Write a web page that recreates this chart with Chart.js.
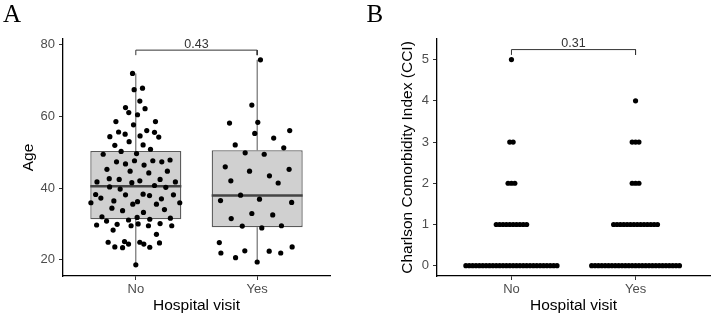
<!DOCTYPE html>
<html><head><meta charset="utf-8">
<script src="https://cdn.jsdelivr.net/npm/chart.js@4/dist/chart.umd.min.js"></script>
<style>
html,body{margin:0;padding:0;background:#fff;}
#wrap{display:flex;width:714px;height:318px;}
canvas{display:block;}
</style></head><body>
<div id="wrap"><canvas id="chartA" width="357" height="318"></canvas><canvas id="chartB" width="357" height="318"></canvas></div>
<script>
// ---------- data ----------
const categories = ['No', 'Yes'];
const ageTicks = [20, 40, 60, 80];
const cciTicks = [0, 1, 2, 3, 4, 5];

const noJitter = [-0.027,-0.014,0.055,0.033,-0.085,-0.058,0.076,0.014,-0.164,-0.019,0.162,-0.142,-0.088,-0.214,0.035,0.090,0.154,0.189,-0.173,-0.055,0.060,0.121,-0.121,-0.269,0.006,
-0.159,-0.085,-0.011,0.068,0.140,0.214,0.282,-0.238,-0.047,0.107,0.260,-0.219,-0.137,-0.033,0.033,0.200,0.326,-0.320,-0.216,-0.129,0.154,0.247,-0.331,-0.288,-0.181,-0.085,0.060,0.113,0.211,0.310,-0.370,-0.025,0.014,0.170,0.362,-0.197,-0.109,0.063,0.236,-0.279,-0.241,-0.060,0.011,0.115,0.285,-0.323,-0.154,-0.039,0.019,0.104,0.200,0.296,
-0.187,0.170,-0.228,-0.093,-0.060,-0.173,-0.109,0.033,0.066,0.115,0.195,0];
const noAge = [71.9,67.4,67.8,64.2,62.4,61.0,62.1,60.4,58.5,57.6,58.5,55.6,55.0,54.3,54.5,56.0,55.5,54.2,51.9,52.9,52.0,50.8,50.2,49.4,49.6,
47.3,46.7,47.6,46.4,47.6,47.3,47.8,45.2,44.7,44.2,44.7,42.6,42.4,41.5,42.0,42.4,41.7,41.7,40.3,39.7,40.7,40.2,38.2,37.2,36.4,38.1,38.3,37.9,37.0,38.1,35.9,35.5,36.2,35.5,35.9,34.4,33.7,33.2,34.0,32.0,30.8,31.1,31.8,31.3,31.6,29.7,29.9,29.5,30.0,29.5,30.1,29.5,
28.3,27.1,24.9,25.1,24.4,23.6,23.4,24.9,24.4,23.5,24.7,18.6];

const yesJitter = [0.027,-0.044,-0.228,0.005,-0.020,0.136,0.268,-0.181,0.219,-0.099,0.058,-0.263,-0.063,0.101,0.263,-0.217,0.173,-0.137,-0.302,0.019,0.284,-0.214,-0.044,0.128,-0.123,0.038,0.200,-0.312,-0.299,-0.178,-0.102,0.099,0.194,0.288,0];
const yesAge = [75.7,63.1,58.1,58.3,55.2,53.9,56.0,52.0,51.2,49.8,49.4,45.9,44.7,43.4,45.2,42.0,41.4,38.0,36.5,36.9,36.0,31.5,32.9,32.5,29.4,28.9,29.5,24.8,21.9,20.6,22.5,22.4,21.9,23.6,19.4];

const boxQ1 = [31.3, 29.1];
const boxMedian = [40.5, 37.9];
const boxQ3 = [50.3, 50.5];
const whiskerLow = [18.6, 19.4];
const whiskerHigh = [71.9, 75.7];

const agePLabel = '0.43';
const ageBracket = [77.0, 78.4];   // end, top

const cciLevels = [0, 1, 2, 3, 4, 5];
const cciNoCounts = [28, 10, 3, 2, 0, 1];
const cciYesCounts = [27, 14, 3, 3, 1, 0];
const cciPLabel = '0.31';
const cciBracket = [5.114, 5.243];

// ---------- styling ----------
const SANS = '"Liberation Sans", Arial, sans-serif';
const SERIF = '"Liberation Serif", "Times New Roman", serif';
const TICK_COLOR = '#4d4d4d';
const BOX_HALF = 0.375;

function xScale(){
  return {
    type: 'linear', min: 0.4, max: 2.6, offset: false,
    afterBuildTicks: s => { s.ticks = categories.map((c, i) => ({ value: i + 1 })); },
    afterFit: s => { s.height = 42; },
    ticks: { callback: v => categories[v - 1], color: TICK_COLOR, font: { family: SANS, size: 13 }, padding: 2, maxRotation: 0, autoSkip: false },
    grid: { display: true, drawOnChartArea: false, drawTicks: true, tickLength: 4, tickColor: '#333', offset: false },
    border: { display: true, color: '#000', width: 1.3 },
    title: { display: true, text: 'Hospital visit', color: '#000', font: { family: SANS, size: 15.5 }, padding: { top: 0, bottom: 3 } }
  };
}
function yScale(min, max, ticks, width, title, titlePad){
  return {
    type: 'linear', min, max,
    afterBuildTicks: s => { s.ticks = ticks.map(v => ({ value: v })); },
    afterFit: s => { s.width = width; },
    ticks: { color: TICK_COLOR, font: { family: SANS, size: 13 }, padding: 4 },
    grid: { display: true, drawOnChartArea: false, drawTicks: true, tickLength: 4, tickColor: '#333' },
    border: { display: true, color: '#000', width: 1.3 },
    title: { display: true, text: title, color: '#000', font: { family: SANS, size: 15.5 }, padding: { top: titlePad, bottom: 0 } }
  };
}
function annotPlugin(letter, letterX, pLabel, bracketTop){
  return {
    id: 'annot' + letter,
    afterDatasetsDraw(chart){
      const { ctx, scales: { x, y } } = chart;
      ctx.save();
      ctx.fillStyle = '#000';
      ctx.font = '25px ' + SERIF;
      ctx.textAlign = 'left'; ctx.textBaseline = 'alphabetic';
      ctx.fillText(letter, letterX, 22);
      ctx.fillStyle = '#333';
      ctx.font = '12.5px ' + SANS;
      ctx.textAlign = 'center';
      ctx.fillText(pLabel, x.getPixelForValue(1.5), y.getPixelForValue(bracketTop) - 2.5);
      ctx.restore();
    }
  };
}
function bracketDataset(b){
  return {
    type: 'line', order: 0,
    data: [{ x: 1, y: b[0] }, { x: 1, y: b[1] }, { x: 2, y: b[1] }, { x: 2, y: b[0] }],
    borderColor: '#333', borderWidth: 1, pointRadius: 0, fill: false, tension: 0
  };
}
const common = {
  responsive: false, animation: false, devicePixelRatio: 1,
  plugins: { legend: { display: false }, tooltip: { enabled: false } },
  events: []
};

// ---------- Panel A ----------
const pointsA = [
  ...noAge.map((v, i) => ({ x: 1 + noJitter[i], y: v })),
  ...yesAge.map((v, i) => ({ x: 2 + yesJitter[i], y: v }))
];
const whiskerSets = categories.map((c, i) => ({
  type: 'line', order: 3,
  data: [{ x: i + 1, y: whiskerLow[i] }, { x: i + 1, y: boxQ1[i] }, { x: i + 1, y: null }, { x: i + 1, y: boxQ3[i] }, { x: i + 1, y: whiskerHigh[i] }],
  borderColor: '#555', borderWidth: 1, pointRadius: 0, spanGaps: false, fill: false
}));
const medianSets = categories.map((c, i) => ({
  type: 'line', order: 1,
  data: [{ x: i + 1 - BOX_HALF, y: boxMedian[i] }, { x: i + 1 + BOX_HALF, y: boxMedian[i] }],
  borderColor: '#444', borderWidth: 2.6, pointRadius: 0, fill: false
}));

new Chart(document.getElementById('chartA'), {
  type: 'bar',
  data: {
    datasets: [
      { type: 'scatter', order: 0, data: pointsA, backgroundColor: '#000', borderWidth: 0, pointRadius: 2.6 },
      bracketDataset(ageBracket),
      ...medianSets,
      { type: 'bar', order: 2, data: categories.map((c, i) => ({ x: i + 1, y: [boxQ1[i], boxQ3[i]] })),
        backgroundColor: '#d0d0d0', borderColor: '#5a5a5a', borderWidth: 1.3, borderSkipped: false,
        categoryPercentage: 1, barPercentage: 2 * BOX_HALF },
      ...whiskerSets
    ]
  },
  options: {
    ...common,
    layout: { padding: { top: 39, right: 27, left: 0, bottom: 0 } },
    scales: {
      x: xScale(),
      y: yScale(15.5, 81.5, ageTicks, 63, 'Age', 19)
    }
  },
  plugins: [annotPlugin('A', 3, agePLabel, ageBracket[1])]
});

// ---------- Panel B ----------
const DOT_STEP = 0.0272;
function dotStack(counts, center){
  const pts = [];
  counts.forEach((n, li) => {
    for (let k = 0; k < n; k++) pts.push({ x: center + (k - (n - 1) / 2) * DOT_STEP, y: cciLevels[li] });
  });
  return pts;
}
new Chart(document.getElementById('chartB'), {
  type: 'scatter',
  data: {
    datasets: [
      { type: 'scatter', order: 0, data: [...dotStack(cciNoCounts, 1), ...dotStack(cciYesCounts, 2)], backgroundColor: '#000', borderWidth: 0, pointRadius: 2.6 },
      bracketDataset(cciBracket)
    ]
  },
  options: {
    ...common,
    layout: { padding: { top: 39, right: 2, left: 0, bottom: 0 } },
    scales: {
      x: xScale(),
      y: yScale(-0.25, 5.5, cciTicks, 80, 'Charlson Comorbidity Index (CCI)', 41)
    }
  },
  plugins: [annotPlugin('B', 9.5, cciPLabel, cciBracket[1])]
});
</script>
</body></html>
